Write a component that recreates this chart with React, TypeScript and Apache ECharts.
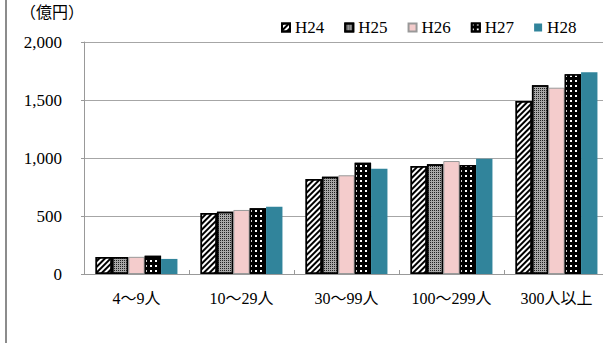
import React, { useEffect, useRef } from "react";
import * as echarts from "echarts";

const categories = ["4～9人", "10～29人", "30～99人", "100～299人", "300人以上"];
const seriesNames = ["H24", "H25", "H26", "H27", "H28"];
const h24 = [147, 526, 820, 931, 1491];
const h25 = [146, 537, 839, 946, 1627];
const h26 = [148, 552, 851, 974, 1606];
const h27 = [158, 566, 960, 940, 1722];
const h28 = [130, 580, 908, 994, 1739];
const yTicks = [0, 500, 1000, 1500, 2000];

const LATIN = "Liberation Serif, Noto Sans CJK JP, serif";

export default function App() {
  const ref = useRef<HTMLDivElement>(null);
  useEffect(() => {
    if (!ref.current) return;
    const chart = echarts.init(ref.current, undefined, { renderer: "svg" });
    const mk = (name: string, data: number[], itemStyle: any) => ({
      name,
      type: "bar",
      data,
      barGap: "0%",
      barCategoryGap: "22%",
      itemStyle,
      emphasis: { disabled: true },
    });
    chart.setOption({
      animation: false,
      backgroundColor: "#ffffff",
      title: {
        text: "（億円）",
        left: 20,
        top: 3,
        padding: 0,
        textStyle: { fontFamily: "Noto Sans CJK JP, sans-serif", fontSize: 16, fontWeight: "normal", color: "#000" },
      },
      legend: {
        data: seriesNames,
        left: 276,
        top: 14,
        itemWidth: 8,
        itemHeight: 8,
        itemGap: 20,
        icon: "rect",
        textStyle: { fontFamily: LATIN, fontSize: 17, color: "#000" },
      },
      graphic: [
        { type: "rect", shape: { x: 5, y: 0, width: 2, height: 343 }, style: { fill: "#8c8c8c" }, silent: true },
      ],
      grid: { left: 84, top: 42, width: 525, height: 232, outerBoundsMode: "none", containLabel: false },
      xAxis: {
        type: "category",
        data: categories,
        axisLine: { lineStyle: { color: "#999", width: 1 } },
        axisTick: { show: true, inside: true, length: 4, lineStyle: { color: "#999" } },
        axisLabel: { interval: 0, fontFamily: LATIN, fontSize: 16, color: "#000", margin: 16 },
      },
      yAxis: {
        type: "value",
        min: 0,
        max: yTicks[yTicks.length - 1],
        interval: yTicks[1] - yTicks[0],
        axisLine: { show: true, lineStyle: { color: "#999", width: 1 } },
        axisTick: { show: true, length: 3, lineStyle: { color: "#999" } },
        splitLine: { lineStyle: { color: "#a6a6a6", width: 1 } },
        axisLabel: {
          fontFamily: LATIN,
          fontSize: 17,
          color: "#000",
          margin: 22,
          formatter: (v: number) => v.toLocaleString("en-US"),
        },
      },
      series: [
        mk(seriesNames[0], h24, {
          color: "#ffffff",
          borderColor: "#000",
          borderWidth: 1.5,
          decal: { symbol: "rect", symbolSize: 1, color: "#000", dashArrayX: [1, 0], dashArrayY: [2, 2], rotation: -Math.PI / 4 },
        }),
        mk(seriesNames[1], h25, {
          color: "#a8a8a8",
          borderColor: "#000",
          borderWidth: 1.5,
          decal: { symbol: "rect", symbolSize: 1, color: "#222", dashArrayX: [1, 1], dashArrayY: [1, 1], rotation: 0 },
        }),
        mk(seriesNames[2], h26, {
          color: "#f4cccc",
          borderColor: "#999",
          borderWidth: 1,
        }),
        mk(seriesNames[3], h27, {
          color: "#000000",
          borderColor: "#000",
          borderWidth: 1.5,
          decal: { symbol: "rect", symbolSize: 1, color: "#ffffff", dashArrayX: [2, 3], dashArrayY: [2, 3], rotation: 0 },
        }),
        mk(seriesNames[4], h28, {
          color: "#31849b",
        }),
      ],
    });
    return () => chart.dispose();
  }, []);
  return <div ref={ref} style={{ position: "fixed", left: 0, top: 0, width: 603, height: 343 }} />;
}
